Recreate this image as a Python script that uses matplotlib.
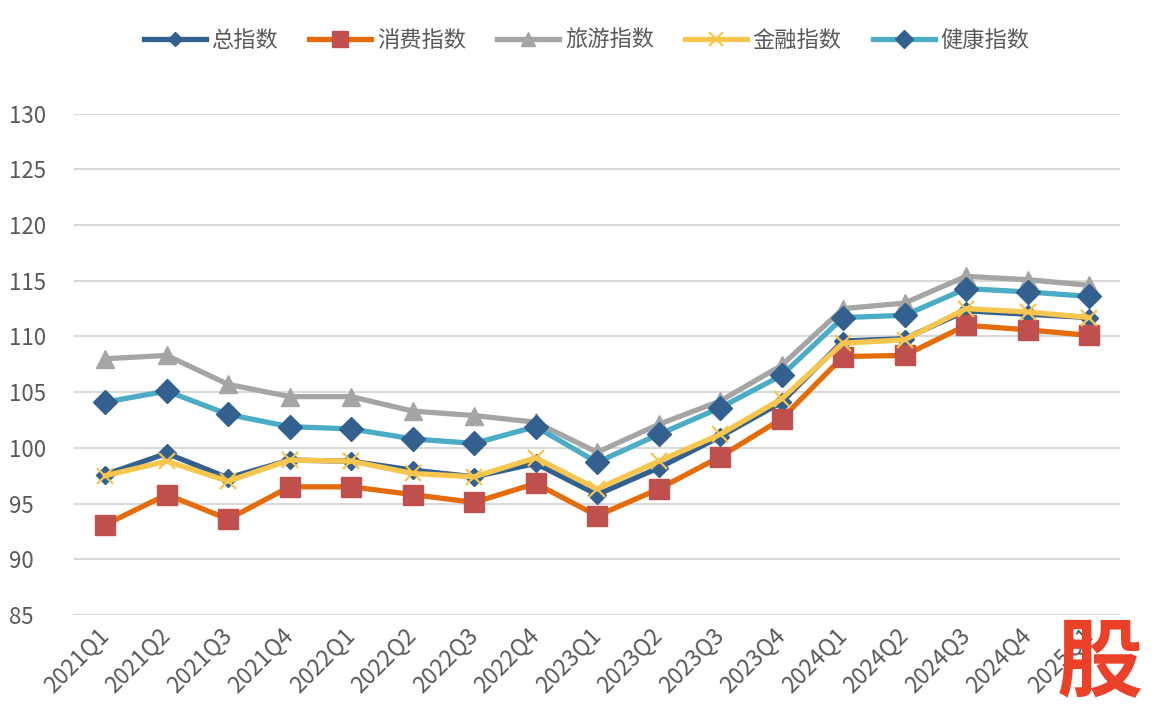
import matplotlib
matplotlib.use("Agg")
import matplotlib.pyplot as plt

plt.rcParams['font.family'] = ['Noto Sans CJK SC', 'DejaVu Sans']

quarters = ['2021Q1', '2021Q2', '2021Q3', '2021Q4',
            '2022Q1', '2022Q2', '2022Q3', '2022Q4',
            '2023Q1', '2023Q2', '2023Q3', '2023Q4',
            '2024Q1', '2024Q2', '2024Q3', '2024Q4', '2025Q1']

total_idx = [97.6, 99.5, 97.3, 98.9, 98.8, 98.0, 97.4, 98.6, 95.8,
             98.2, 101.0, 104.1, 109.6, 109.8, 112.3, 112.0, 111.7]
consume_idx = [93.1, 95.8, 93.6, 96.5, 96.5, 95.8, 95.1, 96.8, 93.9,
               96.3, 99.2, 102.6, 108.2, 108.3, 111.0, 110.6, 110.1]
travel_idx = [108.0, 108.3, 105.7, 104.6, 104.6, 103.3, 102.9, 102.3, 99.6,
              102.1, 104.2, 107.4, 112.5, 113.0, 115.4, 115.1, 114.6]
finance_idx = [97.5, 98.8, 97.0, 98.9, 98.8, 97.7, 97.4, 99.1, 96.3,
               98.8, 101.2, 104.4, 109.4, 109.7, 112.5, 112.2, 111.7]
health_idx = [104.1, 105.1, 103.0, 101.9, 101.7, 100.8, 100.4, 101.9, 98.7,
              101.2, 103.6, 106.5, 111.7, 111.9, 114.3, 114.0, 113.6]

y_ticks = [85, 90, 95, 100, 105, 110, 115, 120, 125, 130]

fig = plt.figure(figsize=(11.64, 7.2), dpi=100)
ax = fig.add_axes([0.064, 0.146, 0.898, 0.696])

x = list(range(len(quarters)))
lw = 3.8

ax.plot(x, total_idx, color='#34608F', lw=lw, marker='D', ms=9,
        mfc='#34608F', mec='#34608F', label='总指数', zorder=3)
ax.plot(x, consume_idx, color='#E46C0A', lw=lw, marker='s', ms=14,
        mfc='#C0504D', mec='#C0504D', label='消费指数', zorder=3)
ax.plot(x, travel_idx, color='#A5A5A5', lw=lw, marker='^', ms=13,
        mfc='#A5A5A5', mec='#A5A5A5', label='旅游指数', zorder=3)
ax.plot(x, finance_idx, color='#F6C64E', lw=lw, marker='x', ms=12, mew=1.6,
        mfc='#F6C64E', mec='#F6C64E', label='金融指数', zorder=3)
ax.plot(x, health_idx, color='#4BACC6', lw=lw, marker='D', ms=12,
        mfc='#34608F', mec='#34608F', label='健康指数', zorder=3)

ax.set_xlim(-0.5, len(quarters) - 0.5)
ax.set_ylim(85, 130)
ax.set_yticks(y_ticks)
ax.set_xticks(x)
ax.set_xticklabels(quarters, rotation=45, ha='right', va='center',
                   rotation_mode='anchor')
ax.tick_params(axis='both', length=0, labelcolor='#595959')
ax.tick_params(axis='x', pad=12, labelsize=16.5)
ax.tick_params(axis='y', pad=47, labelsize=16)
for lab in ax.get_yticklabels():
    lab.set_horizontalalignment('left')
ax.grid(axis='y', color='#D9D9D9', lw=1.5, zorder=0)
ax.set_axisbelow(True)
for s in ax.spines.values():
    s.set_visible(False)

leg = ax.legend(loc='center', bbox_to_anchor=(0.49, 1.146), ncol=5,
                frameon=False, fontsize=16, handlelength=2.8,
                columnspacing=1.4, handletextpad=0.25, markerscale=0.8)
for t in leg.get_texts():
    t.set_color('#595959')

# watermark in the lower right corner
fig.text(0.945, 0.078, '股', color='#EA4128', fontsize=62, fontweight='bold',
         ha='center', va='center')

fig.savefig('out.png', dpi=100)
